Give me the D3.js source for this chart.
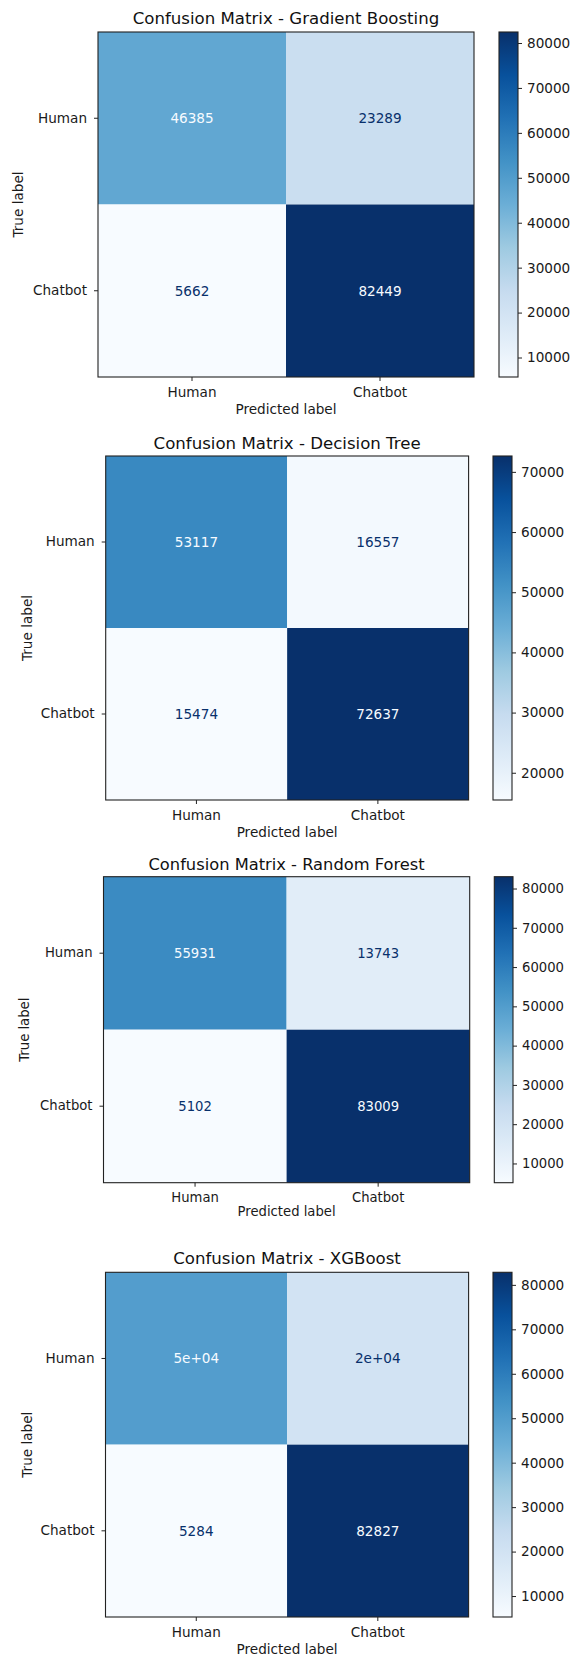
<!DOCTYPE html>
<html>
<head>
<meta charset="utf-8">
<script src="https://cdn.jsdelivr.net/npm/d3@7/dist/d3.min.js"></script>
<style>
  body { margin: 0; background: #fff; }
  svg { display: block; font-family: "DejaVu Sans", sans-serif; }
  .tick line { stroke: #222; }
  .tick text { fill: #1a1a1a; }
</style>
</head>
<body>
<div id="chart"></div>
<script>
// ---- data ----
var classLabels = ['Human', 'Chatbot'];
var models = ['Gradient Boosting', 'Decision Tree', 'Random Forest', 'XGBoost'];

var gbMatrix = [[46385, 23289], [5662, 82449]];
var dtMatrix = [[53117, 16557], [15474, 72637]];
var rfMatrix = [[55931, 13743], [5102, 83009]];
var xgbMatrix = [[49800, 19874], [5284, 82827]];

var gbTicks = [10000, 20000, 30000, 40000, 50000, 60000, 70000, 80000];
var dtTicks = [20000, 30000, 40000, 50000, 60000, 70000];
var rfTicks = [10000, 20000, 30000, 40000, 50000, 60000, 70000, 80000];
var xgbTicks = [10000, 20000, 30000, 40000, 50000, 60000, 70000, 80000];

var matrices = [gbMatrix, dtMatrix, rfMatrix, xgbMatrix];
var cbTicks = [gbTicks, dtTicks, rfTicks, xgbTicks];

// ---- layout (pixel boxes of each panel) ----
var layout = [
    { x0: 98, x1: 474, y0: 32, y1: 377, cb0: 499, cb1: 518, titleY: 18.5, trueX: 18.5, predY: 409, font: 13.6, titleFont: 16.6 },
    { x0: 105.7, x1: 468.6, y0: 456, y1: 800, cb0: 493, cb1: 512, titleY: 442.7, trueX: 26.8, predY: 831.7, font: 13.6, titleFont: 16.6 },
    { x0: 103.5, x1: 469.7, y0: 876.7, y1: 1182.7, cb0: 494.3, cb1: 513, titleY: 864.3, trueX: 23.9, predY: 1211.7, font: 13.2, titleFont: 16.3 },
    { x0: 105.5, x1: 468.6, y0: 1272.3, y1: 1617, cb0: 493, cb1: 512, titleY: 1258.3, trueX: 26.8, predY: 1649, font: 13.6, titleFont: 16.6 }
];

// matplotlib "Blues" stops
var bluesStops = ['#f7fbff', '#deebf7', '#c6dbef', '#9ecae1', '#6baed6', '#4292c6', '#2171b5', '#08519c', '#08306b'];
var blues = d3.scaleLinear()
    .domain(d3.range(bluesStops.length).map(function (i) { return i / (bluesStops.length - 1); }))
    .range(bluesStops)
    .interpolate(d3.interpolateRgb)
    .clamp(true);

// sklearn's default cell text: '.2g' unless the integer form is shorter
function fmtCell(v) {
    var parts = v.toExponential(1).split('e');
    var exp = +parts[1];
    var g;
    if (exp < -4 || exp >= 2) {
        g = parts[0].replace(/\.0$/, '') + 'e' + (exp < 0 ? '-' : '+') + String(Math.abs(exp)).padStart(2, '0');
    } else {
        g = String(+v.toPrecision(2));
    }
    var d = String(Math.round(v));
    return d.length < g.length ? d : g;
}

var width = 575, height = 1657;
var svg = d3.select('#chart').append('svg')
    .attr('width', width)
    .attr('height', height);
var defs = svg.append('defs');

function styleAxis(sel, size) {
    sel.attr('font-size', size)
        .attr('font-family', '"DejaVu Sans", sans-serif');
    sel.select('.domain').remove();
    sel.selectAll('text').style('font-size', size + 'px');
}

function drawPanel(idx) {
    var L = layout[idx], cm = matrices[idx];
    var flat = [];
    cm.forEach(function (row, i) {
        row.forEach(function (v, j) {
            flat.push({ row: classLabels[i], col: classLabels[j], value: v });
        });
    });
    var vmin = d3.min(flat, function (d) { return d.value; });
    var vmax = d3.max(flat, function (d) { return d.value; });
    var norm = d3.scaleLinear().domain([vmin, vmax]).range([0, 1]);
    var thresh = (vmin + vmax) / 2;

    var x = d3.scaleBand().domain(classLabels).range([L.x0, L.x1]);
    var y = d3.scaleBand().domain(classLabels).range([L.y0, L.y1]);

    var g = svg.append('g').attr('class', 'panel');

    g.selectAll('rect.cell')
        .data(flat)
        .enter().append('rect')
        .attr('class', 'cell')
        .attr('x', function (d) { return x(d.col); })
        .attr('y', function (d) { return y(d.row); })
        .attr('width', x.bandwidth())
        .attr('height', y.bandwidth())
        .attr('fill', function (d) { return blues(norm(d.value)); });

    g.selectAll('text.val')
        .data(flat)
        .enter().append('text')
        .attr('class', 'val')
        .attr('x', function (d) { return x(d.col) + x.bandwidth() / 2; })
        .attr('y', function (d) { return y(d.row) + y.bandwidth() / 2; })
        .attr('dy', '0.36em')
        .attr('text-anchor', 'middle')
        .style('font-size', L.font + 'px')
        .attr('fill', function (d) { return d.value < thresh ? blues(1) : blues(0); })
        .text(function (d) { return fmtCell(d.value); });

    // frame
    g.append('rect')
        .attr('x', L.x0).attr('y', L.y0)
        .attr('width', L.x1 - L.x0).attr('height', L.y1 - L.y0)
        .attr('fill', 'none')
        .attr('stroke', '#222')
        .attr('stroke-width', 1.1);

    var xAxis = d3.axisBottom(x).tickSizeInner(4).tickSizeOuter(0).tickPadding(6);
    var yAxis = d3.axisLeft(y).tickSizeInner(4).tickSizeOuter(0).tickPadding(7);

    g.append('g')
        .attr('transform', 'translate(0,' + L.y1 + ')')
        .call(xAxis)
        .call(styleAxis, L.font);

    g.append('g')
        .attr('transform', 'translate(' + L.x0 + ',0)')
        .call(yAxis)
        .call(styleAxis, L.font);

    g.append('text')
        .attr('x', (L.x0 + L.x1) / 2)
        .attr('y', L.titleY)
        .attr('dy', '0.36em')
        .attr('text-anchor', 'middle')
        .attr('fill', '#111')
        .style('font-size', L.titleFont + 'px')
        .text('Confusion Matrix - ' + models[idx]);

    g.append('text')
        .attr('x', (L.x0 + L.x1) / 2)
        .attr('y', L.predY)
        .attr('dy', '0.36em')
        .attr('text-anchor', 'middle')
        .attr('fill', '#1a1a1a')
        .style('font-size', L.font + 'px')
        .text('Predicted label');

    g.append('text')
        .attr('transform', 'translate(' + L.trueX + ',' + (L.y0 + L.y1) / 2 + ') rotate(-90)')
        .attr('dy', '0.36em')
        .attr('text-anchor', 'middle')
        .attr('fill', '#1a1a1a')
        .style('font-size', L.font + 'px')
        .text('True label');

    // colorbar
    var gradId = 'cb-grad-' + idx;
    var grad = defs.append('linearGradient')
        .attr('id', gradId)
        .attr('x1', 0).attr('y1', 1).attr('x2', 0).attr('y2', 0);
    grad.selectAll('stop')
        .data(bluesStops)
        .enter().append('stop')
        .attr('offset', function (d, i) { return i / (bluesStops.length - 1); })
        .attr('stop-color', function (d) { return d; });

    g.append('rect')
        .attr('x', L.cb0).attr('y', L.y0)
        .attr('width', L.cb1 - L.cb0).attr('height', L.y1 - L.y0)
        .attr('fill', 'url(#' + gradId + ')')
        .attr('stroke', '#222')
        .attr('stroke-width', 1.1);

    var cScale = d3.scaleLinear().domain([vmin, vmax]).range([L.y1, L.y0]);
    var cAxis = d3.axisRight(cScale).tickValues(cbTicks[idx]).tickFormat(d3.format('d'))
        .tickSizeInner(4).tickSizeOuter(0).tickPadding(5);
    g.append('g')
        .attr('transform', 'translate(' + L.cb1 + ',0)')
        .call(cAxis)
        .call(styleAxis, L.font);
}

for (var i = 0; i < models.length; i++) {
    drawPanel(i);
}
</script>
</body>
</html>
